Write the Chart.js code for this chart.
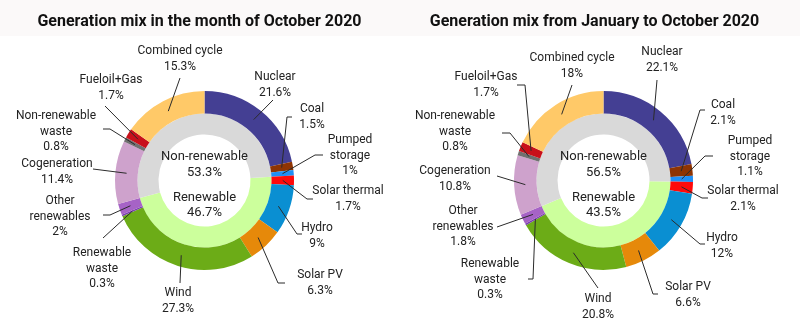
<!DOCTYPE html>
<html>
<head>
<meta charset="utf-8">
<script src="https://cdn.jsdelivr.net/npm/chart.js@4.4.1/dist/chart.umd.min.js"></script>
<style>
  body { margin: 0; background: #fff; }
  .wrap { display: flex; width: 800px; height: 332px; }
  .band { position: absolute; left: 0; top: 0; width: 800px; height: 36px; background: #fbf9f9; }
  canvas { position: relative; }
</style>
</head>
<body>
<div class="band"></div>
<div class="wrap">
  <canvas id="octMix" width="400" height="332"></canvas>
  <canvas id="ytdMix" width="400" height="332"></canvas>
</div>
<script>
const sources = ['Nuclear', 'Coal', 'Pumped storage', 'Solar thermal', 'Hydro', 'Solar PV', 'Wind',
  'Renewable waste', 'Other renewables', 'Cogeneration', 'Non-renewable waste', 'Fueloil+Gas', 'Combined cycle'];
const sourceLines = [['Nuclear'], ['Coal'], ['Pumped', 'storage'], ['Solar thermal'], ['Hydro'], ['Solar PV'], ['Wind'],
  ['Renewable', 'waste'], ['Other', 'renewables'], ['Cogeneration'], ['Non-renewable', 'waste'], ['Fueloil+Gas'], ['Combined cycle']];
const sourceColors = ['#443f93', '#8e3403', '#1f8ff5', '#ff0a0a', '#0a8fd2', '#e6890a', '#6cac17',
  '#7a3fb0', '#a663c6', '#cea2cc', '#707070', '#c8101a', '#ffc968'];

const octValues = [21.6, 1.5, 1, 1.7, 9, 6.3, 27.3, 0.3, 2, 11.4, 0.8, 1.7, 15.3];
const ytdValues = [22.1, 2.1, 1.1, 2.1, 12, 6.6, 20.8, 0.3, 1.8, 10.8, 0.8, 1.7, 18];

const groups = ['Renewable', 'Non-renewable'];
const groupColors = ['#ccff9c', '#d9d9d9'];
const octGroupValues = [46.7, 53.3];
const ytdGroupValues = [43.5, 56.5];
const firstRenewable = 3; // Solar thermal opens the renewable block

// label placement around each donut, relative to its centre: [textX, textY, endX, endY, kneeX, kneeY]
const octLayout = [
  [70.5, -103.5, 68.5, -80.5],
  [107.5, -71.5, 87.5, -63.5, 82.5, -63.5],
  [145.5, -40.5, 118.5, -25.5, 110.5, -25.5],
  [143.5, 10.5, 108.5, 18.5, 102.5, 18.5],
  [112.5, 47.5, 97.5, 53.5, 92.5, 53.5],
  [115.5, 94.5, 80.5, 102.5, 73.5, 102.5],
  [-26.5, 112.5, -24.5, 102.5],
  [-102.5, 72.5, -101.5, 57.5],
  [-144.5, 20.5, -101.5, 34.5, -94.5, 34.5],
  [-147.5, -16.5, -111.5, -11.5],
  [-148.5, -64.5, -101.5, -51.5, -94.5, -51.5],
  [-93.5, -100.5, -99.5, -74.5],
  [-24.5, -129.5, -24.5, -102.5]
];
const ytdLayout = [
  [58.5, -128.5, 53.5, -100.5],
  [119.5, -75.5, 101.5, -70.5, 96.5, -70.5],
  [146.5, -39.5, 109.5, -24.5, 101.5, -24.5],
  [139.5, 10.5, 104.5, 17.5, 98.5, 17.5],
  [118.5, 57.5, 101.5, 63.5, 96.5, 63.5],
  [84.5, 106.5, 54.5, 113.5, 49.5, 113.5],
  [-5.5, 118.5, -5.5, 107.5],
  [-113.5, 83.5, -75.5, 98.5, -70.5, 98.5],
  [-140.5, 30.5, -106.5, 46.5],
  [-148.5, -9.5, -106.5, -4.5],
  [-148.5, -64.5, -101.5, -47.5, -93.5, -47.5],
  [-117.5, -103.5, -86.5, -95.5, -78.5, -95.5],
  [-31.5, -122.5, -31.5, -95.5]
];

const labelFont = '12px Roboto';
const lineGap = 15.5;

const mixLabels = {
  id: 'mixLabels',
  afterDatasetsDraw(chart, args, opts) {
    const ctx = chart.ctx;
    const values = chart.data.datasets[0].data;
    const arcs = chart.getDatasetMeta(0).data;
    ctx.save();
    ctx.textAlign = 'center';
    ctx.textBaseline = 'middle';

    // title
    ctx.fillStyle = '#111';
    ctx.font = 'bold 16px Roboto';
    ctx.fillText(opts.title, opts.titleX, 22);

    arcs.forEach((arc, i) => {
      const p = arc.getProps(['x', 'y', 'startAngle', 'endAngle', 'innerRadius', 'outerRadius'], true);
      const a = (p.startAngle + p.endAngle) / 2;
      const r = (p.innerRadius + p.outerRadius) / 2;
      const l = opts.layout[i];

      ctx.strokeStyle = '#2b2b2b';
      ctx.lineWidth = 1;
      ctx.beginPath();
      ctx.moveTo(p.x + Math.cos(a) * r, p.y + Math.sin(a) * r);
      if (l.length > 4) ctx.lineTo(p.x + l[4], p.y + l[5]);
      ctx.lineTo(p.x + l[2], p.y + l[3]);
      ctx.stroke();

      ctx.fillStyle = '#222';
      ctx.font = labelFont;
      const lines = sourceLines[i].concat([values[i] + '%']);
      lines.forEach((t, k) => ctx.fillText(t, p.x + l[0], p.y + l[1] + k * lineGap));
    });

    // group shares in the middle
    const c = arcs[0];
    const groupVals = chart.data.datasets[1].data;
    ctx.font = '13px Roboto';
    ctx.fillStyle = '#222';
    ctx.fillText(groups[1], c.x, c.y - 23.5);
    ctx.fillText(groupVals[1] + '%', c.x, c.y - 8);
    ctx.fillText(groups[0], c.x, c.y + 17.5);
    ctx.fillText(groupVals[0] + '%', c.x, c.y + 32);
    ctx.restore();
  }
};

function mixChart(id, title, titleX, values, groupValues, layout, padLeft) {
  const total = values.reduce((s, v) => s + v, 0);
  const before = values.slice(0, firstRenewable).reduce((s, v) => s + v, 0);
  return new Chart(document.getElementById(id), {
    type: 'doughnut',
    data: {
      labels: sources,
      datasets: [{
        data: values,
        backgroundColor: sourceColors,
        borderWidth: 0,
        weight: 22.5
      }, {
        data: groupValues,
        backgroundColor: groupColors,
        borderWidth: 0,
        weight: 21,
        rotation: before / total * 360
      }]
    },
    options: {
      responsive: false,
      animation: false,
      events: [],
      cutout: '51.4%',
      layout: { padding: { left: padLeft, right: 400 - padLeft - 179, top: 91, bottom: 62 } },
      plugins: {
        legend: { display: false },
        tooltip: { enabled: false },
        mixLabels: { title: title, titleX: titleX, layout: layout }
      }
    },
    plugins: [mixLabels]
  });
}

mixChart('octMix', 'Generation mix in the month of October 2020', 199.5, octValues, octGroupValues, octLayout, 115);
mixChart('ytdMix', 'Generation mix from January to October 2020', 194.5, ytdValues, ytdGroupValues, ytdLayout, 114);
</script>
</body>
</html>
